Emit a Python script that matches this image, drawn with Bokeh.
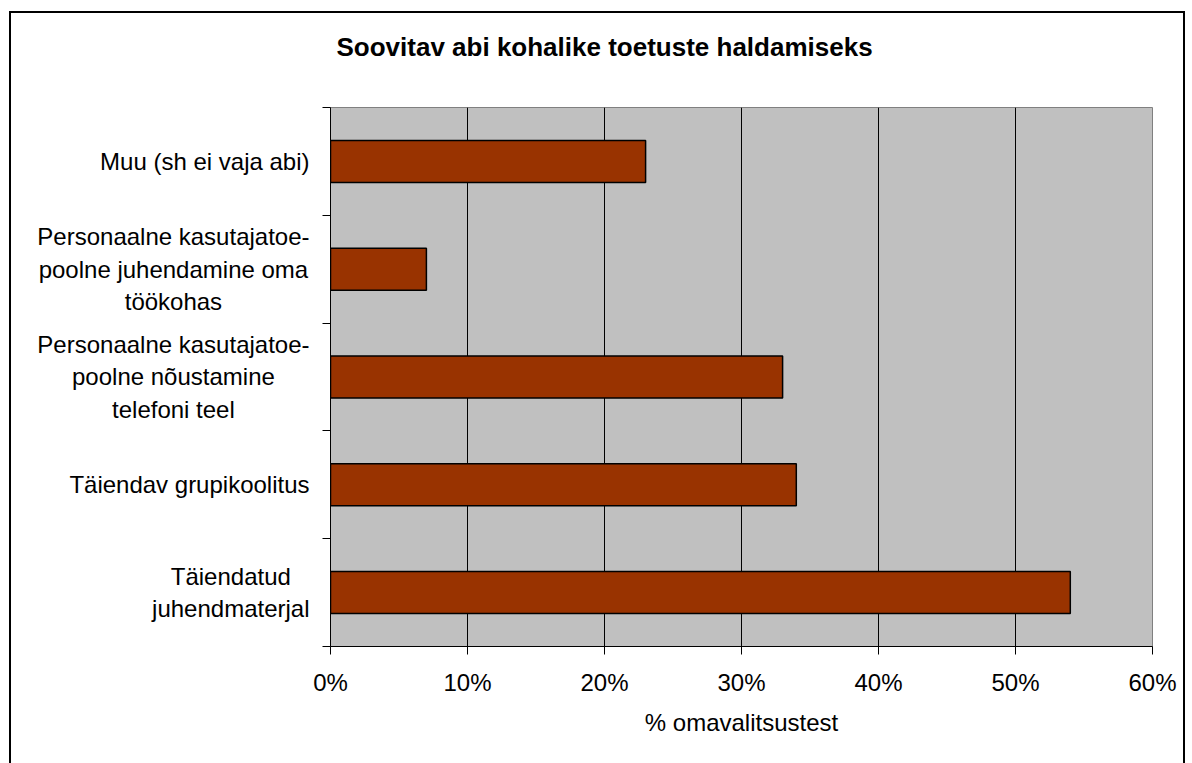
import numpy as np
from bokeh.plotting import figure
from bokeh.layouts import row
from bokeh.models import Range1d, FixedTicker, PrintfTickFormatter, LinearAxis
from bokeh.core.properties import value
from bokeh.embed import file_html
from bokeh.resources import INLINE

# ---- data (bottom to top) ----
categories = [
    "Täiendatud\njuhendmaterjal",
    "Täiendav grupikoolitus",
    "Personaalne kasutajatoe-\npoolne nõustamine\ntelefoni teel",
    "Personaalne kasutajatoe-\npoolne juhendamine oma\ntöökohas",
    "Muu (sh ei vaja abi)",
]
values = [54, 34, 33, 7, 23]          # % omavalitsustest
x_ticks = [0, 10, 20, 30, 40, 50, 60]
title_text = "Soovitav abi kohalike toetuste haldamiseks"
x_title = "% omavalitsustest"

FONT = "Liberation Sans"
LABEL_PX = 24
ypos = np.arange(len(categories)) + 0.5

# Arial / Liberation Sans advance widths (1/1000 em) to centre multi-line labels
_W = {"T": 611, "ä": 556, "i": 222, "e": 556, "n": 556, "d": 556, "a": 556, "t": 278,
      "u": 556, "j": 222, "h": 556, "m": 833, "r": 333, "l": 222, "v": 500, " ": 278,
      "g": 556, "p": 556, "k": 500, "o": 556, "s": 500, "P": 667, "-": 333, "õ": 556,
      "f": 278, "ö": 556, "M": 833, "(": 333, ")": 333, "b": 556, "c": 500}

def text_width(s, px):
    return max(sum(_W.get(ch, 556) for ch in line) for line in s.split("\n")) * px / 1000.0

TOP, BOTTOM = 94, 117
LEFT_W = 299
MAIN_W = 1172 - LEFT_W
H = 750

y_range = Range1d(0, len(categories))

# ---- left panel holding the category labels ----
lp = figure(width=LEFT_W, height=H, output_backend="svg", toolbar_location=None,
            x_range=Range1d(0, LEFT_W), y_range=y_range,
            x_axis_type=None, y_axis_type=None,
            min_border_left=0, min_border_right=0, min_border_top=TOP, min_border_bottom=BOTTOM)
lp.outline_line_color = None
lp.background_fill_color = "white"
lp.border_fill_color = "white"
lp.grid.visible = False
RIGHT_EDGE = LEFT_W - 1
lp.text(x=[RIGHT_EDGE - text_width(c, LABEL_PX) / 2 for c in categories], y=ypos,
        text=categories, text_font=value(FONT), text_font_size=f"{LABEL_PX}px",
        text_color="black", text_align="center", text_baseline="middle")

# ---- main chart ----
p = figure(width=MAIN_W, height=H, output_backend="svg", toolbar_location=None,
           x_range=Range1d(0, 60), y_range=y_range,
           min_border_left=20, min_border_right=31, min_border_top=TOP, min_border_bottom=BOTTOM)
p.background_fill_color = "#C0C0C0"
p.border_fill_color = "white"
p.outline_line_color = "#808080"
p.outline_line_width = 1

p.title.text = title_text
p.title.text_font = FONT
p.title.text_font_size = "26px"
p.title.text_font_style = "bold"
p.title.text_color = "black"
p.title.align = "left"
p.title.offset = 6

p.hbar(y=ypos, right=values, left=0, height=0.39, fill_color="#993300",
       line_color="black", line_width=1.5)

# grid
p.ygrid.visible = False
p.xgrid.ticker = FixedTicker(ticks=x_ticks)
p.xgrid.grid_line_color = "black"
p.xgrid.grid_line_width = 1

# x axis (bottom)
xa = p.below[0]
xa.ticker = FixedTicker(ticks=x_ticks)
xa.formatter = PrintfTickFormatter(format="%d%%")
xa.major_tick_out = 8
xa.major_tick_in = 0
xa.minor_tick_out = 0
xa.minor_tick_in = 0
xa.axis_line_color = "black"
xa.major_tick_line_color = "black"
xa.major_label_text_font = FONT
xa.major_label_text_font_size = "24px"
xa.major_label_text_color = "black"
xa.major_label_standoff = 14
xa.axis_label = x_title
xa.axis_label_text_font = FONT
xa.axis_label_text_font_size = "24px"
xa.axis_label_text_font_style = "normal"
xa.axis_label_text_color = "black"
xa.axis_label_standoff = 10

# y axis: only tick marks at the category boundaries
ya = p.left[0]
ya.ticker = FixedTicker(ticks=[], minor_ticks=list(range(len(categories) + 1)))
ya.major_tick_out = 0
ya.major_tick_in = 0
ya.minor_tick_out = 8
ya.minor_tick_in = 0
ya.minor_tick_line_color = "black"
ya.axis_line_color = "black"

# invisible spacer axis that lifts the title away from the plot area
spacer = LinearAxis(ticker=FixedTicker(ticks=[30]), major_tick_out=41, major_tick_in=0,
                    minor_tick_out=0, minor_tick_in=0, axis_line_color=None,
                    major_tick_line_color=None, minor_tick_line_color=None,
                    major_label_overrides={30: ""}, major_label_standoff=0,
                    major_label_text_color=None)
p.add_layout(spacer, "above")

layout = row(lp, p, spacing=0,
             styles={"border-left": "2px solid black", "border-top": "2px solid black",
                     "border-right": "2px solid black",
                     "margin-left": "9px", "margin-top": "11px"})

open("out.html", "w").write(file_html(layout, INLINE))
